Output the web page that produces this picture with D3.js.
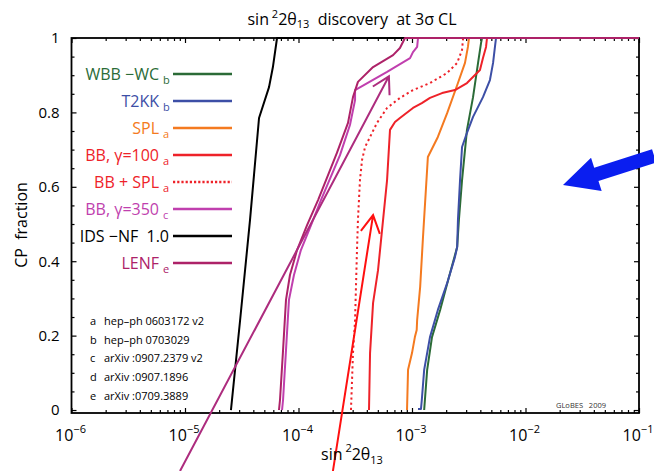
<!DOCTYPE html>
<html>
<head>
<meta charset="utf-8">
<script src="https://cdn.jsdelivr.net/npm/d3@7"></script>
<style>
body { margin: 0; background: #fff; }
text { font-family: "Open Sans", sans-serif; white-space: pre; }
</style>
</head>
<body>
<svg id="chart" width="654" height="471"></svg>
<script>
// points are [sin^2 2theta13, CP fraction]
var wbbWc = [[1.28e-3,0],[1.36e-3,0.108],[1.50e-3,0.196],[1.77e-3,0.269],[2.08e-3,0.349],[2.50e-3,0.438],[2.59e-3,0.511],[2.76e-3,0.618],[3.05e-3,0.753],[3.45e-3,0.841],[3.82e-3,0.933],[4.06e-3,0.987],[4.14e-3,1],[0.1,1]];
var t2kk = [[1.13e-3,0.003],[1.20e-3,0.003],[1.22e-3,0.027],[1.28e-3,0.108],[1.44e-3,0.196],[1.69e-3,0.269],[2.04e-3,0.341],[2.39e-3,0.411],[2.50e-3,0.438],[2.54e-3,0.511],[2.65e-3,0.618],[2.76e-3,0.707],[3.05e-3,0.745],[3.45e-3,0.788],[4.22e-3,0.841],[4.86e-3,0.887],[5.18e-3,0.933],[5.38e-3,0.976],[5.50e-3,1],[0.1,1]];
var spl = [[9.04e-4,0],[9.23e-4,0.108],[1.00e-3,0.153],[1.06e-3,0.196],[1.10e-3,0.215],[1.11e-3,0.242],[1.18e-3,0.331],[1.25e-3,0.465],[1.38e-3,0.680],[1.69e-3,0.734],[2.04e-3,0.798],[2.54e-3,0.879],[2.93e-3,0.933],[3.11e-3,0.976],[3.18e-3,1],[0.1,1]];
var bb100 = [[4.18e-4,0],[4.27e-4,0.153],[4.54e-4,0.288],[5.02e-4,0.376],[5.56e-4,0.511],[6.03e-4,0.618],[6.40e-4,0.753],[7.08e-4,0.774],[7.83e-4,0.785],[1.02e-3,0.812],[1.22e-3,0.825],[1.44e-3,0.839],[1.84e-3,0.852],[2.39e-3,0.860],[3.05e-3,0.879],[3.97e-3,0.914],[4.22e-3,0.946],[4.49e-3,0.976],[4.58e-3,1],[0.1,1]];
var bbSpl = [[2.90e-4,0],[3.02e-4,0.153],[3.15e-4,0.242],[3.27e-4,0.422],[3.34e-4,0.511],[3.48e-4,0.618],[3.63e-4,0.672],[3.86e-4,0.707],[4.27e-4,0.734],[4.92e-4,0.772],[6.03e-4,0.812],[7.83e-4,0.839],[1.02e-3,0.860],[1.44e-3,0.879],[2.04e-3,0.906],[2.50e-3,0.933],[2.76e-3,0.968],[2.82e-3,1],[0.1,1]];
var bb350 = [[7.16e-5,0],[7.31e-5,0.027],[7.76e-5,0.161],[8.24e-5,0.296],[9.12e-5,0.363],[1.05e-4,0.430],[1.29e-4,0.497],[1.58e-4,0.565],[2.32e-4,0.685],[2.84e-4,0.766],[3.15e-4,0.833],[3.15e-4,0.860],[6.03e-4,0.909],[9.61e-4,0.946],[1.02e-3,0.962],[1.11e-3,0.976],[1.13e-3,1],[0.1,1]];
var idsNf = [[2.54e-5,0],[3.06e-5,0.242],[3.74e-5,0.511],[4.49e-5,0.785],[5.50e-5,0.868],[5.95e-5,0.922],[6.47e-5,1],[0.1,1]];
var lenf = [[6.73e-5,0],[6.87e-5,0.027],[7.31e-5,0.161],[7.76e-5,0.296],[8.41e-5,0.363],[9.71e-5,0.430],[1.19e-4,0.497],[1.49e-4,0.565],[2.18e-4,0.691],[2.73e-4,0.772],[3.02e-4,0.841],[3.34e-4,0.882],[4.54e-4,0.922],[6.81e-4,0.954],[7.83e-4,0.973],[8.67e-4,1],[0.1,1]];

var seriesNames = ["WBB \u2212WC", "T2KK", "SPL", "BB, \u03b3=100", "BB + SPL", "BB, \u03b3=350", "IDS \u2212NF  1.0", "LENF"];
var seriesRefs = ["b", "b", "a", "a", "a", "c", "", "e"];
var seriesColors = ["#2b6b37", "#3d4fa6", "#f47a20", "#ee2229", "#ee2229", "#c03fae", "#000000", "#ad2268"];
var seriesData = [wbbWc, t2kk, spl, bb100, bbSpl, bb350, idsNf, lenf];

var refLetters = ["a", "b", "c", "d", "e"];
var refTexts = ["hep\u2013ph 0603172 v2", "hep\u2013ph 0703029", "arXiv :0907.2379 v2", "arXiv :0907.1896", "arXiv :0709.3889"];

var xMajor = [1e-6, 1e-5, 1e-4, 1e-3, 1e-2, 1e-1];
var yMajor = [0, 0.2, 0.4, 0.6, 0.8, 1];
var yTickLabels = ["0", "0.2", "0.4", "0.6", "0.8", "1"];

// annotation arrows, [from, to] in data coordinates
var lenfArrow = [[9.04e-6, -0.164], [6.26e-4, 0.897]];
var redArrow = [[2.01e-4, -0.164], [4.54e-4, 0.524]];
var blueArrow = [[0.136, 0.683], [0.0214, 0.605]];

var svg = d3.select("#chart");
var x = d3.scaleLog().domain([1e-6, 1e-1]).range([71.5, 639]);
var y = d3.scaleLinear().domain([-0.008, 1]).range([413, 38]);

var xMinor = [];
for (var e = -6; e < -1; e++) {
  for (var m = 2; m <= 9; m++) xMinor.push(m * Math.pow(10, e));
}
var yMinor = d3.range(0, 21).map(function(i) { return i * 0.05; })
  .filter(function(v) { return Math.abs(v * 5 - Math.round(v * 5)) > 1e-6; });

function addAxis(axis, tx, ty) {
  var g = svg.append("g").attr("transform", "translate(" + tx + "," + ty + ")").call(axis);
  g.select(".domain").remove();
  g.selectAll(".tick line").attr("stroke-width", 1.2);
  return g;
}

addAxis(d3.axisBottom(x).tickValues(xMajor).tickSizeInner(-5).tickFormat(""), 0, 413);
addAxis(d3.axisBottom(x).tickValues(xMinor).tickSizeInner(-3).tickFormat(""), 0, 413);
addAxis(d3.axisTop(x).tickValues(xMajor).tickSizeInner(-5).tickFormat(""), 0, 38);
addAxis(d3.axisTop(x).tickValues(xMinor).tickSizeInner(-3).tickFormat(""), 0, 38);
var yAx = addAxis(d3.axisLeft(y).tickValues(yMajor).tickSizeInner(-5).tickPadding(12)
  .tickFormat(function(d, i) { return yTickLabels[i]; }), 71.5, 0);
yAx.selectAll("text").attr("font-size", 15).attr("font-family", "Open Sans, sans-serif").attr("fill", "#000");
addAxis(d3.axisLeft(y).tickValues(yMinor).tickSizeInner(-3).tickFormat(""), 71.5, 0);
addAxis(d3.axisRight(y).tickValues(yMajor).tickSizeInner(-5).tickFormat(""), 639, 0);
addAxis(d3.axisRight(y).tickValues(yMinor).tickSizeInner(-3).tickFormat(""), 639, 0);

svg.append("rect")
  .attr("x", x.range()[0]).attr("y", y.range()[1])
  .attr("width", x.range()[1] - x.range()[0]).attr("height", y.range()[0] - y.range()[1])
  .attr("fill", "none").attr("stroke", "#000").attr("stroke-width", 1.8);

// x tick labels 10^n
xMajor.forEach(function(v) {
  var t = svg.append("text").attr("x", x(v) - 1).attr("y", 441)
    .attr("text-anchor", "middle").attr("font-size", 16);
  t.append("tspan").text("10");
  t.append("tspan").attr("font-size", 11).attr("dy", -8).text("\u2212" + Math.round(-Math.log10(v)));
});

// curves
var line = d3.line().x(function(d) { return x(d[0]); }).y(function(d) { return y(d[1]); });
seriesData.forEach(function(data, i) {
  svg.append("path").datum(data)
    .attr("d", line)
    .attr("fill", "none")
    .attr("stroke", seriesColors[i])
    .attr("stroke-width", 2)
    .attr("stroke-linejoin", "round")
    .attr("stroke-dasharray", i === 4 ? "2.2,3" : null);
});

// arrows
function drawArrow(pts, color, width, headLen, headAng) {
  var x0 = x(pts[0][0]), y0 = y(pts[0][1]), x1 = x(pts[1][0]), y1 = y(pts[1][1]);
  var a = Math.atan2(y0 - y1, x0 - x1);
  svg.append("path")
    .attr("d", "M" + x0 + "," + y0 + "L" + x1 + "," + y1 +
      "M" + (x1 + headLen * Math.cos(a + headAng)) + "," + (y1 + headLen * Math.sin(a + headAng)) +
      "L" + x1 + "," + y1 +
      "L" + (x1 + headLen * Math.cos(a - headAng)) + "," + (y1 + headLen * Math.sin(a - headAng)))
    .attr("fill", "none").attr("stroke", color).attr("stroke-width", width);
}
drawArrow(lenfArrow, "#ad2c7e", 2, 19, 0.52);
drawArrow(redArrow, "#ff1010", 2, 20, 0.5);

(function() {
  var x0 = x(blueArrow[0][0]), y0 = y(blueArrow[0][1]), x1 = x(blueArrow[1][0]), y1 = y(blueArrow[1][1]);
  var len = Math.hypot(x1 - x0, y1 - y0), ux = (x1 - x0) / len, uy = (y1 - y0) / len;
  var nx = -uy, ny = ux, hl = 35, hw = 17.5, sw = 7;
  var bx = x1 - hl * ux, by = y1 - hl * uy;
  var pts = [
    [x0 + sw * nx, y0 + sw * ny], [bx + sw * nx, by + sw * ny], [bx + hw * nx, by + hw * ny],
    [x1, y1],
    [bx - hw * nx, by - hw * ny], [bx - sw * nx, by - sw * ny], [x0 - sw * nx, y0 - sw * ny]
  ];
  svg.append("polygon").attr("points", pts.map(function(p) { return p.join(","); }).join(" "))
    .attr("fill", "#0a1ef0");
})();

// legend
seriesNames.forEach(function(name, i) {
  var ly = 74 + i * 27;
  svg.append("text").attr("y", ly + 6).attr("font-size", 16).attr("fill", seriesColors[i])
    .attr("text-anchor", "end").attr("x", seriesRefs[i] ? 159 : 169).text(name);
  if (seriesRefs[i]) {
    svg.append("text").attr("x", 163).attr("y", ly + 10).attr("font-size", 11)
      .attr("fill", seriesColors[i]).text(seriesRefs[i]);
  }
  svg.append("line").attr("x1", 173).attr("x2", 232).attr("y1", ly).attr("y2", ly)
    .attr("stroke", seriesColors[i]).attr("stroke-width", 2.5)
    .attr("stroke-dasharray", i === 4 ? "2.2,2" : null);
});

// references
refLetters.forEach(function(l, i) {
  var ry = 325 + i * 18.7;
  svg.append("text").attr("x", 90).attr("y", ry).attr("font-size", 11).text(l);
  svg.append("text").attr("x", 104).attr("y", ry).attr("font-size", 11).text(refTexts[i]);
});

svg.append("text").attr("x", 556).attr("y", 408).attr("font-size", 7.5).attr("fill", "#333")
  .text("GLoBES   2009");

// title
var title = svg.append("text").attr("x", 352).attr("y", 25).attr("text-anchor", "middle").attr("font-size", 16);
title.append("tspan").text("sin");
title.append("tspan").attr("font-size", 11).attr("dy", -7).text(" 2");
title.append("tspan").attr("dy", 7).text("2\u03b8");
title.append("tspan").attr("font-size", 11).attr("dy", 3).text("13");
title.append("tspan").attr("dy", -3).text("  discovery  at 3\u03c3 CL");

// x axis label
var xl = svg.append("text").attr("x", 352).attr("y", 460).attr("text-anchor", "middle").attr("font-size", 16);
xl.append("tspan").text("sin");
xl.append("tspan").attr("font-size", 11).attr("dy", -8).text(" 2");
xl.append("tspan").attr("dy", 8).text("2\u03b8");
xl.append("tspan").attr("font-size", 11).attr("dy", 4).text("13");

// y axis label
svg.append("text").attr("transform", "translate(27,225) rotate(-90)").attr("text-anchor", "middle")
  .attr("font-size", 16).text("CP  fraction");
</script>
</body>
</html>
